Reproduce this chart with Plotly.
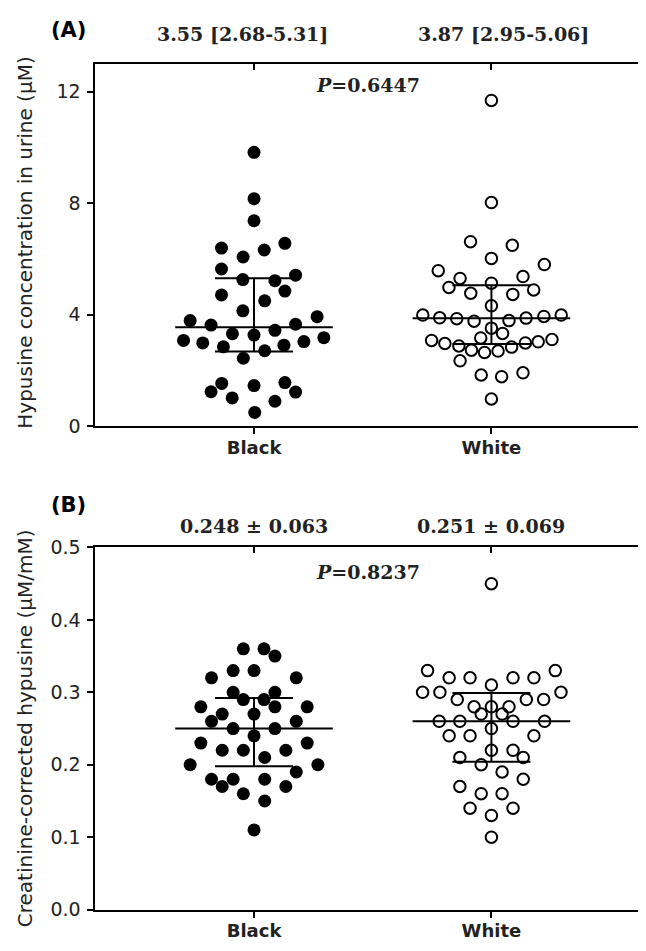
import plotly.graph_objects as go

# group labels
groups = ["Black", "White"]

# (A) hypusine in urine, uM
black_urine = [9.82, 8.16, 7.37, 6.39, 6.32, 6.56, 6.07, 5.64, 5.26, 5.22, 5.42, 4.71, 4.85,
               4.50, 4.14, 3.79, 3.63, 3.93, 3.66, 3.32, 3.27, 3.44, 3.08, 2.99, 2.85, 2.91,
               3.04, 3.18, 2.71, 2.44, 1.54, 1.24, 1.02, 1.46, 1.57, 1.23, 0.90, 0.50]
black_urine_spread = [0, 0, 0, -0.137, 0.043, 0.130, -0.046, -0.137, -0.047, 0.088, 0.175,
                      -0.137, 0.130, 0.045, -0.047, -0.269, -0.181, 0.266, 0.175, -0.091, 0,
                      0.088, -0.297, -0.216, -0.129, 0.126, 0.210, 0.294, 0.045, -0.045,
                      -0.136, -0.181, -0.092, 0, 0.130, 0.175, 0.088, 0.003]
white_urine = [11.68, 8.02, 6.62, 6.49, 6.02, 5.58, 5.80, 5.30, 5.37, 4.98, 5.13, 4.77, 4.73,
               4.89, 4.32, 3.99, 3.89, 3.86, 3.77, 3.79, 3.88, 3.94, 3.99, 3.52, 3.33, 3.17,
               3.08, 2.97, 2.88, 2.73, 2.65, 2.70, 2.84, 2.99, 3.03, 3.11, 2.35, 1.84, 1.78,
               1.92, 0.98]
white_urine_spread = [0, 0, -0.088, 0.088, 0, -0.224, 0.223, -0.132, 0.133, -0.179, 0, -0.087,
                      0.090, 0.178, 0, -0.289, -0.218, -0.146, -0.073, 0.074, 0.146, 0.221,
                      0.294, 0, 0.047, -0.045, -0.252, -0.196, -0.137, -0.084, -0.029, 0.028,
                      0.085, 0.143, 0.197, 0.255, -0.132, -0.043, 0.043, 0.133, 0]
# median, q1, q3
urine_median = [3.55, 3.87]
urine_q1 = [2.68, 2.95]
urine_q3 = [5.31, 5.06]
urine_labels = ["3.55 [2.68-5.31]", "3.87 [2.95-5.06]"]
urine_p = "0.6447"
urine_ticks = [0, 4, 8, 12]

# (B) creatinine-corrected hypusine, uM/mM
black_corr = [0.36, 0.36, 0.35, 0.32, 0.33, 0.33, 0.32, 0.30, 0.29, 0.29, 0.30, 0.28, 0.27,
              0.27, 0.28, 0.28, 0.26, 0.25, 0.25, 0.26, 0.24, 0.23, 0.22, 0.22, 0.22, 0.23,
              0.21, 0.20, 0.20, 0.19, 0.18, 0.18, 0.17, 0.18, 0.17, 0.16, 0.15, 0.11]
black_corr_spread = [-0.045, 0.042, 0.088, -0.179, -0.088, 0, 0.178, -0.088, -0.045, 0.042,
                     0.088, -0.224, -0.134, 0, 0.088, 0.224, -0.179, -0.088, 0.088, 0.178, 0,
                     -0.224, -0.134, -0.045, 0.134, 0.224, 0.045, -0.269, 0.269, 0.178,
                     -0.179, -0.088, -0.134, 0.045, 0.134, -0.045, 0.045, 0]
white_corr = [0.45, 0.33, 0.32, 0.32, 0.31, 0.32, 0.32, 0.33, 0.30, 0.30, 0.29, 0.29, 0.29,
              0.30, 0.28, 0.28, 0.28, 0.27, 0.27, 0.26, 0.26, 0.26, 0.26, 0.25, 0.24, 0.24,
              0.24, 0.22, 0.22, 0.21, 0.21, 0.20, 0.19, 0.18, 0.17, 0.16, 0.16, 0.14, 0.14,
              0.13, 0.10]
white_corr_spread = [0, -0.269, -0.178, -0.090, 0, 0.091, 0.179, 0.269, -0.290, -0.217,
                     -0.144, 0.147, 0.220, 0.293, -0.073, 0, 0.074, -0.043, 0.045, -0.220,
                     -0.133, 0.091, 0.224, 0, -0.178, -0.090, 0.179, 0, 0.091, -0.133, 0.134,
                     -0.043, 0.045, 0.134, -0.133, -0.043, 0.045, -0.090, 0.091, 0, 0]
corr_center = [0.25, 0.26]
corr_low = [0.198, 0.204]
corr_high = [0.292, 0.299]
corr_labels = ["0.248 \u00b1 0.063", "0.251 \u00b1 0.069"]
corr_p = "0.8237"
corr_ticks = [0.0, 0.1, 0.2, 0.3, 0.4, 0.5]

W, H = 646, 951
X_RANGE = [-0.672, 1.668]
LINE_HALF = 0.332  # half length of median line, in category units
TEXT = "#222222"

fig = go.Figure()


def add_panel(fig, n, black_y, black_dx, white_y, white_dx, mid, lo, hi):
    xa = "x" if n == 1 else f"x{n}"
    ya = "y" if n == 1 else f"y{n}"
    fig.add_trace(go.Scatter(
        x=[0 + d for d in black_dx], y=black_y, mode="markers", xaxis=xa, yaxis=ya,
        marker=dict(symbol="circle", size=13, color="black", line=dict(width=0)),
        showlegend=False, hoverinfo="y"))
    fig.add_trace(go.Scatter(
        x=[1 + d for d in white_dx], y=white_y, mode="markers", xaxis=xa, yaxis=ya,
        marker=dict(symbol="circle-open", size=11.5, color="black",
                    line=dict(width=2, color="black")),
        showlegend=False, hoverinfo="y"))
    # median line + spread bars
    fig.add_trace(go.Scatter(
        x=[0, 1], y=mid, mode="markers", xaxis=xa, yaxis=ya,
        marker=dict(size=1, color="black"),
        error_y=dict(type="data", symmetric=False,
                     array=[h - m for h, m in zip(hi, mid)],
                     arrayminus=[m - l for m, l in zip(mid, lo)],
                     width=39, thickness=2, color="black"),
        error_x=dict(type="data", array=[LINE_HALF, LINE_HALF], width=0,
                     thickness=2, color="black"),
        showlegend=False, hoverinfo="skip"))


add_panel(fig, 1, black_urine, black_urine_spread, white_urine, white_urine_spread,
          urine_median, urine_q1, urine_q3)
add_panel(fig, 2, black_corr, black_corr_spread, white_corr, white_corr_spread,
          corr_center, corr_low, corr_high)

# dummy traces so the mirrored inside-tick axes get drawn
fig.add_trace(go.Scatter(x=[], y=[], xaxis="x3", yaxis="y3", showlegend=False))
fig.add_trace(go.Scatter(x=[], y=[], xaxis="x4", yaxis="y4", showlegend=False))

xdom = [86.5 / W, 642 / W]
ydomA = [1 - 417 / H, 1 - 45.7 / H]
ydomB = [1 - 911.7 / H, 1 - 541 / H]

tickfont = dict(family="DejaVu Sans", size=19, color=TEXT)
catfont = dict(family="DejaVu Sans", size=18, color=TEXT, weight="bold")

base_x = dict(range=X_RANGE, tickvals=[0, 1], ticktext=groups, showgrid=False,
              zeroline=False, showline=True, linecolor="black", linewidth=2,
              ticks="outside", ticklen=6, tickwidth=2, tickcolor="black",
              tickfont=catfont, ticklabelstandoff=-2)
base_y = dict(showgrid=False, zeroline=False, showline=True, linecolor="black",
              linewidth=2, ticks="outside", ticklen=6, tickwidth=2, tickcolor="black",
              tickfont=tickfont, ticklabelstandoff=2)
mirror_x = dict(range=X_RANGE, tickvals=[0, 1], showticklabels=False, showgrid=False,
                zeroline=False, showline=True, linecolor="black", linewidth=2,
                ticks="inside", ticklen=6, tickwidth=2, tickcolor="black", side="top")
mirror_y = dict(showticklabels=False, showgrid=False, zeroline=False, showline=True,
                linecolor="black", linewidth=2, ticks="inside", ticklen=6, tickwidth=2,
                tickcolor="black", side="right")

fig.update_layout(
    width=W, height=H, margin=dict(l=0, r=0, t=0, b=0),
    paper_bgcolor="white", plot_bgcolor="white", showlegend=False,
    xaxis=dict(base_x, domain=xdom, anchor="y"),
    yaxis=dict(base_y, domain=ydomA, anchor="x", range=[0, 13], tickvals=urine_ticks),
    xaxis2=dict(base_x, domain=xdom, anchor="y2"),
    yaxis2=dict(base_y, domain=ydomB, anchor="x2", range=[0, 0.5], tickvals=corr_ticks,
                tickformat=".1f"),
    xaxis3=dict(mirror_x, domain=xdom, anchor="y3", overlaying="x"),
    yaxis3=dict(mirror_y, domain=ydomA, anchor="x3", overlaying="y", range=[0, 13],
                tickvals=urine_ticks),
    xaxis4=dict(mirror_x, domain=xdom, anchor="y4", overlaying="x2"),
    yaxis4=dict(mirror_y, domain=ydomB, anchor="x4", overlaying="y2", range=[0, 0.5],
                tickvals=corr_ticks),
)

serif = dict(family="DejaVu Serif", size=19, color=TEXT)
ann = []
for xpos, lab in zip([234, 495], urine_labels):
    ann.append(dict(text=f"<b>{lab}</b>", x=xpos / W, xref="paper", y=1 - 15 / H,
                    yref="paper", showarrow=False, font=serif, xanchor="center",
                    yanchor="middle"))
for i, lab in enumerate(corr_labels):
    ann.append(dict(text=f"<b>{lab}</b>", x=i, xref="x2", y=1 - 519 / H, yref="paper",
                    showarrow=False, font=serif, xanchor="center", yanchor="middle"))
ann.append(dict(text=f"<b><i>P</i>={urine_p}</b>", x=360 / W, xref="paper", y=1 - 68 / H,
                yref="paper", showarrow=False, font=serif, xanchor="center",
                yanchor="middle"))
ann.append(dict(text=f"<b><i>P</i>={corr_p}</b>", x=360 / W, xref="paper", y=1 - 566 / H,
                yref="paper", showarrow=False, font=serif, xanchor="center",
                yanchor="middle"))
panel_font = dict(family="DejaVu Sans", size=21, color="black")
ann.append(dict(text="<b>(A)</b>", x=61 / W, xref="paper", y=1 - 11 / H, yref="paper",
                showarrow=False, font=panel_font, xanchor="center", yanchor="middle"))
ann.append(dict(text="<b>(B)</b>", x=61 / W, xref="paper", y=1 - 498 / H, yref="paper",
                showarrow=False, font=panel_font, xanchor="center", yanchor="middle"))
title_font = dict(family="DejaVu Sans", size=20, color=TEXT)
ann.append(dict(text="Hypusine concentration in urine (\u03bcM)", textangle=-90,
                x=17 / W, xref="paper", y=1 - 229 / H, yref="paper", showarrow=False,
                font=title_font, xanchor="center", yanchor="middle"))
ann.append(dict(text="Creatinine-corrected hypusine (\u03bcM/mM)", textangle=-90,
                x=17 / W, xref="paper", y=1 - 726 / H, yref="paper", showarrow=False,
                font=title_font, xanchor="center", yanchor="middle"))
fig.update_layout(annotations=ann)

fig.write_html("out.html")
